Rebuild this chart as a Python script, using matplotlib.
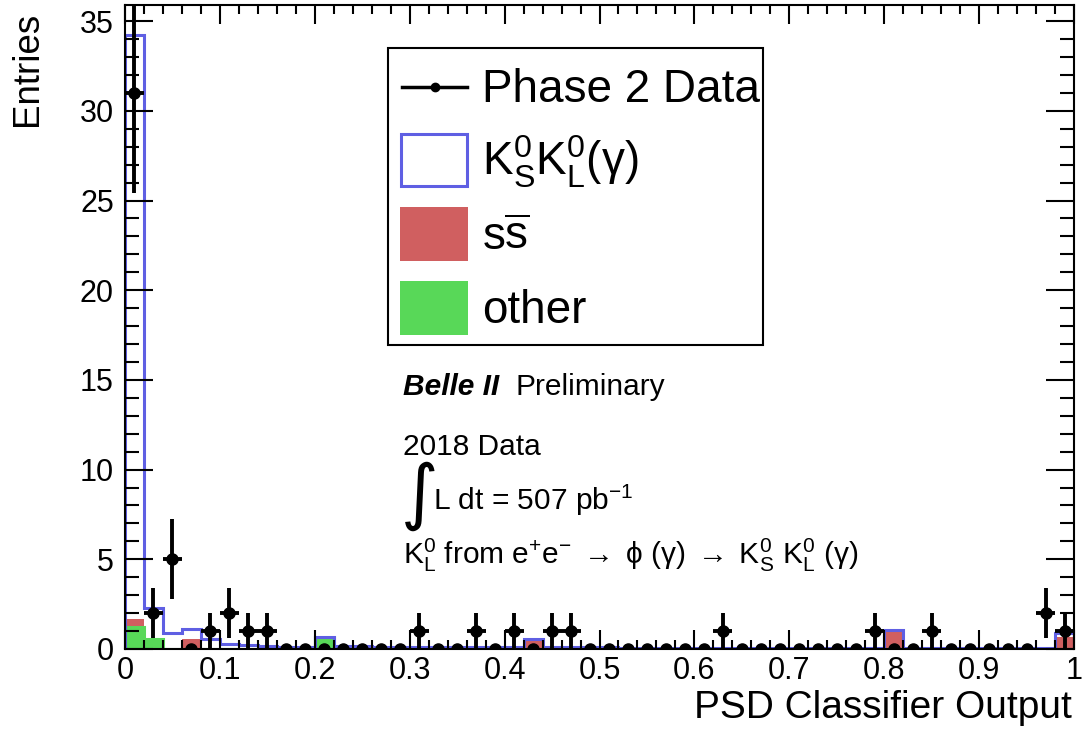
import numpy as np
import matplotlib
matplotlib.use("Agg")
import matplotlib.pyplot as plt
from matplotlib.patches import Rectangle
from matplotlib.lines import Line2D
from matplotlib.ticker import MultipleLocator, FuncFormatter

plt.rcParams['font.family'] = ['Liberation Sans', 'DejaVu Sans']
plt.rcParams['mathtext.fontset'] = 'custom'
plt.rcParams['mathtext.rm'] = 'Liberation Sans'
plt.rcParams['mathtext.it'] = 'Liberation Sans:italic'
plt.rcParams['mathtext.bf'] = 'Liberation Sans:bold'

# 50 bins of the classifier output
bin_edges = np.linspace(0, 1, 51)
bin_centers = 0.5 * (bin_edges[1:] + bin_edges[:-1])

data = np.array([31, 2, 5, 0, 1, 2, 1, 1, 0, 0,
                 0, 0, 0, 0, 0, 1, 0, 0, 1, 0,
                 1, 0, 1, 1, 0, 0, 0, 0, 0, 0,
                 0, 1, 0, 0, 0, 0, 0, 0, 0, 1,
                 0, 0, 1, 0, 0, 0, 0, 0, 2, 1], dtype=float)

other = np.zeros(50)
other[0] = 1.2
other[1] = 0.55
other[10] = 0.6

ssbar = np.zeros(50)
ssbar[0] = 0.5
ssbar[3] = 0.55
ssbar[21] = 0.5
ssbar[40] = 1.0
ssbar[49] = 0.65

kskl = np.array([32.5, 1.75, 0.88, 0.57, 0.54, 0.28, 0.2, 0.15, 0.13, 0.13,
                 0.09, 0.15, 0.14, 0.13, 0.13, 0.12, 0.13, 0.12, 0.12, 0.12,
                 0.11, 0.07, 0.12, 0.11, 0.1, 0.09, 0.08, 0.08, 0.08, 0.07,
                 0.07, 0.06, 0.06, 0.06, 0.06, 0.06, 0.06, 0.05, 0.05, 0.05,
                 0.06, 0.05, 0.05, 0.05, 0.04, 0.04, 0.04, 0.04, 0.04, 0.22])

blue = '#5f5fe3'
red = '#d05f60'
green = '#58d858'

W, H = 1083, 736
fig = plt.figure(figsize=(W / 100, H / 100), dpi=100)


def fx(x):
    return x / W


def fy(y):
    return 1 - y / H


ax = fig.add_axes([fx(125), fy(649), fx(1074) - fx(125), fy(5) - fy(649)])

# stacked MC: other, then ssbar, KsKl outline on top
ax.stairs(other, bin_edges, fill=True, color=green, lw=0)
ax.stairs(other + ssbar, bin_edges, baseline=other, fill=True, color=red, lw=0)
ax.stairs(other, bin_edges, color=green, lw=2.2)
total = other + ssbar + kskl
ax.stairs(total, bin_edges, color=blue, lw=2.2)

xerr = np.where(data > 0, 0.01, 0.0)
ax.errorbar(bin_centers, data, yerr=np.sqrt(data), xerr=xerr, fmt='o',
            color='black', ms=8, elinewidth=2.8, capsize=0, zorder=5)

ax.set_xlim(0, 1)
ax.set_ylim(0, 35.9)
ax.xaxis.set_major_locator(MultipleLocator(0.1))
ax.xaxis.set_minor_locator(MultipleLocator(0.02))
ax.yaxis.set_major_locator(MultipleLocator(5))
ax.yaxis.set_minor_locator(MultipleLocator(1))
ax.xaxis.set_major_formatter(FuncFormatter(lambda v, p: f'{v:g}'))
ax.yaxis.set_major_formatter(FuncFormatter(lambda v, p: f'{v:g}'))
ax.tick_params(which='both', direction='in', top=True, right=True, width=1.5,
               labelsize=22)
ax.tick_params(axis='x', which='major', length=13.7, pad=5)
ax.tick_params(axis='x', which='minor', length=6.8)
ax.tick_params(axis='y', which='major', length=20, pad=8)
ax.tick_params(axis='y', which='minor', length=10)
for s in ax.spines.values():
    s.set_linewidth(1.5)

fig.text(fx(1072), fy(708), 'PSD Classifier Output', fontsize=28,
         ha='right', va='center')
fig.text(fx(27), fy(12), 'Entries', fontsize=26.5, rotation=90,
         ha='center', va='top')

# legend box
fig.add_artist(Rectangle((fx(388), fy(345)), fx(763) - fx(388), fy(48) - fy(345),
                         transform=fig.transFigure, facecolor='white',
                         edgecolor='black', lw=1.5, zorder=10))
fig.add_artist(Line2D([fx(402), fx(467)], [fy(87), fy(87)], color='black', lw=2.5,
                      transform=fig.transFigure, zorder=11))
fig.add_artist(Line2D([fx(435)], [fy(87)], color='black', marker='o', ms=6,
                      transform=fig.transFigure, zorder=11))
fig.add_artist(Rectangle((fx(401), fy(186)), fx(467) - fx(401), fy(134) - fy(186),
                         transform=fig.transFigure, facecolor='white',
                         edgecolor=blue, lw=2.2, zorder=11))
fig.add_artist(Rectangle((fx(400), fy(261)), fx(468) - fx(400), fy(207) - fy(261),
                         transform=fig.transFigure, facecolor=red,
                         edgecolor='none', zorder=11))
fig.add_artist(Rectangle((fx(400), fy(335)), fx(468) - fx(400), fy(281) - fy(335),
                         transform=fig.transFigure, facecolor=green,
                         edgecolor='none', zorder=11))
leg_labels = ['Phase 2 Data', r'$\mathregular{K_S^0K_L^0(\gamma)}$',
              r'$\mathregular{s\overline{s}}$', 'other']
for lab, yb in zip(leg_labels, [102, 176, 250, 323]):
    fig.text(fx(482), fy(yb), lab, fontsize=33, ha='left', va='baseline', zorder=12)

# experiment labels
fig.text(fx(403), fy(395), 'Belle II', fontsize=21.5, fontweight='bold',
         fontstyle='italic', va='baseline')
fig.text(fx(516), fy(395), 'Preliminary', fontsize=21.5, va='baseline')
fig.text(fx(403), fy(455), '2018 Data', fontsize=21.5, va='baseline')
fig.text(fx(401), fy(496), '\u222b', fontsize=52, family='DejaVu Sans',
         ha='left', va='center')
fig.text(fx(433), fy(510), r'L dt = 507 pb$^{\mathregular{-1}}$', fontsize=21.5,
         va='baseline')
fig.text(fx(403), fy(564),
         r'$\mathregular{K_L^0\ from\ e^{+}e^{-}\;\rightarrow\;\phi\ (\gamma)'
         r'\;\rightarrow\;K_S^0\ K_L^0\ (\gamma)}$',
         fontsize=21.5, va='baseline')

fig.savefig('out.png', dpi=100)
